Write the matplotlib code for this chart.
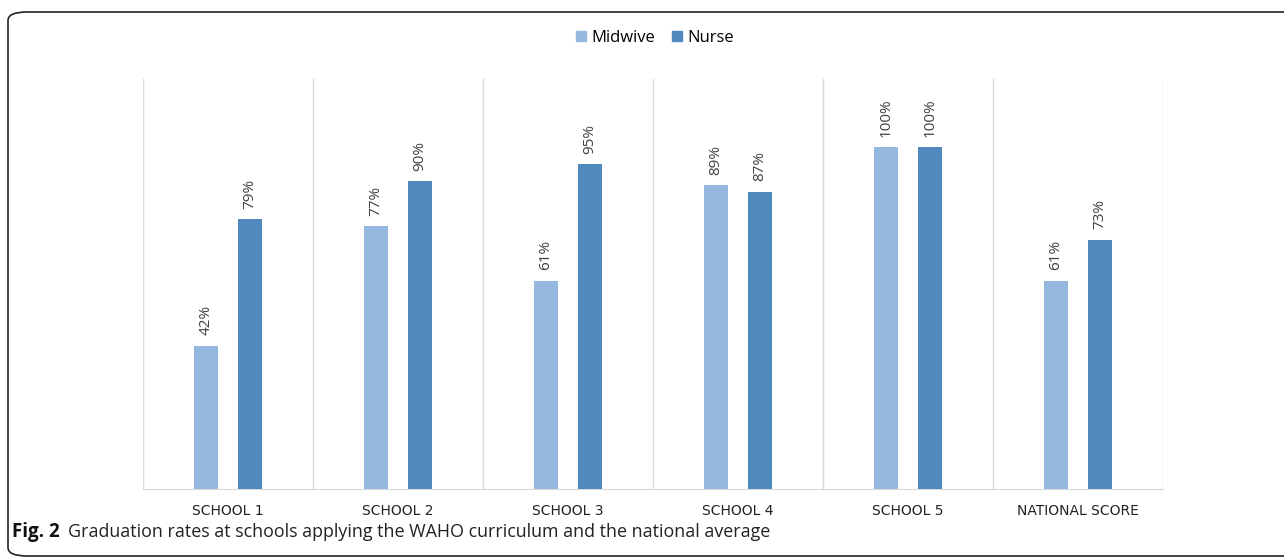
import numpy as np
import matplotlib
matplotlib.use("Agg")
import matplotlib.pyplot as plt
from matplotlib.patches import FancyBboxPatch, Patch

schools = ["SCHOOL 1", "SCHOOL 2", "SCHOOL 3", "SCHOOL 4", "SCHOOL 5", "NATIONAL SCORE"]
midwive = [0.42, 0.77, 0.61, 0.89, 1.00, 0.61]
nurse = [0.79, 0.90, 0.95, 0.87, 1.00, 0.73]

MID_COLOR = "#95b8de"
NUR_COLOR = "#4f89bd"
GRID = "#d9d9d9"

plt.rcParams['font.family'] = ['Open Sans', 'DejaVu Sans']

fig = plt.figure(figsize=(12.84, 5.59), dpi=100)
ax = fig.add_axes([143 / 1284, 70 / 559, 1020 / 1284, 410 / 559])

x = np.arange(len(schools))
w = 0.141
off = 0.13
b1 = ax.bar(x - off, midwive, w, color=MID_COLOR, zorder=3)
b2 = ax.bar(x + off, nurse, w, color=NUR_COLOR, zorder=3)

for bars, vals in ((b1, midwive), (b2, nurse)):
    for r, v in zip(bars, vals):
        ax.text(r.get_x() + r.get_width() / 2, v + 0.03, f"{v:.0%}",
                rotation=90, ha='center', va='bottom', fontsize=11, color="#404040")

# category separators
for s in np.arange(len(schools) + 1) - 0.5:
    ax.axvline(s, color=GRID, lw=1, zorder=1)

ax.set_xlim(-0.5, len(schools) - 0.5)
ax.set_ylim(0, 1.2)
ax.set_yticks([])
ax.set_xticks(x)
ax.set_xticklabels(schools, fontsize=10, color="#222222", family='DejaVu Sans')
ax.tick_params(axis='x', length=0, pad=11)
for sp in ('top', 'right', 'left'):
    ax.spines[sp].set_visible(False)
ax.spines['bottom'].set_color(GRID)

handles = [Patch(color=MID_COLOR, label="Midwive"), Patch(color=NUR_COLOR, label="Nurse")]
fig.legend(handles=handles, loc='center', bbox_to_anchor=(655 / 1284, 1 - 38 / 559),
           ncol=2, frameon=False, fontsize=12, handlelength=0.6, handleheight=0.6,
           handletextpad=0.3, columnspacing=1.0)

# outer rounded frame
frame = FancyBboxPatch((8 / 1284, 3 / 559), 1.1, 1 - 15 / 559, transform=fig.transFigure,
                       boxstyle="round,pad=0,rounding_size=0.015", fill=False,
                       edgecolor="#222222", lw=1.2, zorder=0)
fig.patches.append(frame)

fig.text(12 / 1284, 1 - 532 / 559, "Fig. 2", fontsize=13.5, fontweight='bold',
         va='center', ha='left', color="#111111")
fig.text(68 / 1284, 1 - 532 / 559,
         "Graduation rates at schools applying the WAHO curriculum and the national average",
         fontsize=12.9, va='center', ha='left', color="#222222")

fig.savefig("out.png", dpi=100)
